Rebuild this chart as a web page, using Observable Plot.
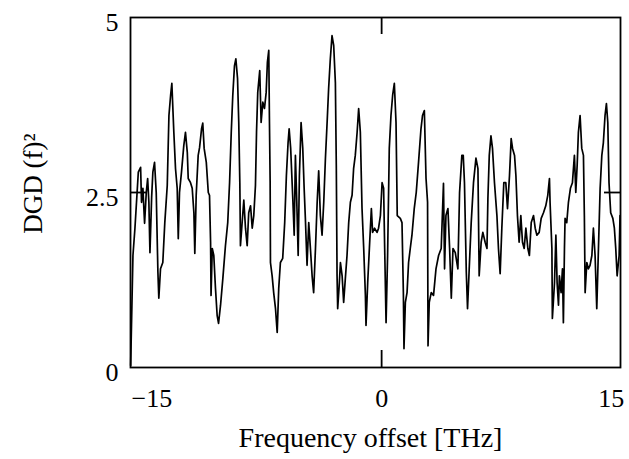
<!DOCTYPE html>
<html><head><meta charset="utf-8">
<script src="https://cdn.jsdelivr.net/npm/d3@7"></script>
<script src="https://cdn.jsdelivr.net/npm/@observablehq/plot@0.6"></script>
<style>body{margin:0;background:#fff}</style>
</head><body><div id="chart"></div>
<script>
const freq = [-16.39,-16.24,-16.11,-15.89,-15.74,-15.68,-15.59,-15.48,-15.37,-15.28,-15.20,-15.13,-15.02,-14.94,-14.83,-14.72,-14.61,-14.55,-14.44,-14.29,-14.16,-14.00,-13.89,-13.78,-13.70,-13.57,-13.46,-13.35,-13.28,-13.20,-13.07,-12.92,-12.81,-12.69,-12.63,-12.48,-12.37,-12.26,-12.20,-12.11,-11.98,-11.89,-11.76,-11.68,-11.59,-11.45,-11.32,-11.24,-11.17,-11.14,-11.06,-10.96,-10.85,-10.74,-10.65,-10.52,-10.37,-10.20,-10.05,-9.93,-9.82,-9.72,-9.61,-9.52,-9.41,-9.33,-9.26,-9.22,-9.11,-9.00,-8.89,-8.78,-8.68,-8.56,-8.45,-8.35,-8.24,-8.17,-8.09,-7.96,-7.87,-7.76,-7.65,-7.54,-7.46,-7.37,-7.33,-7.28,-7.26,-7.15,-7.05,-6.93,-6.82,-6.72,-6.61,-6.46,-6.33,-6.22,-6.11,-6.04,-5.94,-5.81,-5.71,-5.63,-5.54,-5.45,-5.37,-5.26,-5.15,-5.06,-4.98,-4.87,-4.76,-4.65,-4.54,-4.44,-4.32,-4.21,-4.11,-4.00,-3.89,-3.78,-3.67,-3.56,-3.46,-3.35,-3.24,-3.13,-3.02,-2.96,-2.91,-2.87,-2.76,-2.69,-2.58,-2.48,-2.37,-2.26,-2.15,-2.04,-1.93,-1.83,-1.72,-1.60,-1.50,-1.39,-1.28,-1.17,-1.06,-1.02,-0.91,-0.80,-0.67,-0.59,-0.46,-0.30,-0.20,-0.08,0.03,0.13,0.20,0.29,0.39,0.50,0.61,0.72,0.83,0.94,1.02,1.22,1.33,1.42,1.46,1.55,1.66,1.76,1.87,1.98,2.13,2.26,2.41,2.57,2.67,2.79,2.90,3.00,3.03,3.11,3.24,3.39,3.55,3.72,3.89,4.04,4.11,4.20,4.33,4.44,4.55,4.66,4.81,4.98,5.09,5.24,5.33,5.41,5.53,5.61,5.72,5.85,6.00,6.16,6.29,6.37,6.50,6.61,6.76,6.88,6.94,7.03,7.14,7.24,7.37,7.53,7.63,7.74,7.85,7.98,8.11,8.22,8.35,8.46,8.55,8.68,8.77,8.87,8.98,9.09,9.20,9.31,9.42,9.55,9.65,9.77,9.92,10.03,10.14,10.29,10.42,10.57,10.72,10.85,10.96,11.00,11.12,11.15,11.29,11.38,11.46,11.55,11.61,11.72,11.81,11.87,11.94,11.98,12.09,12.20,12.33,12.46,12.59,12.68,12.77,12.85,12.96,13.07,13.18,13.24,13.29,13.40,13.50,13.61,13.73,13.83,13.94,14.05,14.16,14.27,14.38,14.48,14.59,14.68,14.77,14.85,14.96,15.10,15.20,15.29,15.38,15.51,15.57];
const dgd = [0.03,1.60,1.99,2.79,2.86,2.36,2.56,2.06,2.50,2.70,2.36,1.64,2.43,2.79,2.93,2.50,1.36,0.99,1.41,1.50,2.07,2.60,3.60,3.89,4.06,3.36,2.84,2.56,1.84,2.50,2.79,3.17,3.36,3.07,2.70,2.64,2.56,2.21,1.63,2.46,3.03,3.14,3.41,3.49,3.13,2.93,2.50,2.46,1.79,1.03,1.70,1.60,1.13,0.74,0.63,0.89,1.27,1.74,2.07,2.64,3.36,3.89,4.31,4.41,4.13,3.50,2.64,1.74,2.07,2.39,1.99,1.74,2.21,2.31,1.99,2.17,2.60,3.36,3.93,4.24,3.50,3.79,3.70,3.93,4.36,4.53,3.60,2.64,1.50,1.31,1.07,0.84,0.50,1.13,1.50,1.56,2.07,2.74,3.21,3.41,3.13,2.46,1.89,3.03,2.36,1.60,2.74,3.50,3.13,2.56,2.13,1.46,2.07,1.70,1.31,1.07,1.70,2.36,2.81,2.17,1.89,2.36,2.99,3.50,3.99,4.41,4.74,4.60,4.07,2.89,1.31,0.84,1.21,1.50,1.31,0.93,1.27,1.60,2.07,2.36,2.46,2.84,3.03,3.36,3.70,3.36,2.27,1.70,1.03,0.60,1.21,1.70,2.27,1.93,1.99,1.93,1.99,2.17,2.64,2.56,1.70,0.64,1.60,3.13,3.60,3.89,4.06,3.50,2.17,2.13,2.07,1.07,0.27,0.93,1.07,1.50,1.70,1.89,2.27,2.50,2.93,3.41,3.60,3.67,2.70,2.36,0.31,0.93,1.07,1.03,1.41,1.60,1.70,2.63,1.41,2.17,2.27,1.70,0.99,1.70,1.64,1.41,2.50,3.03,3.03,2.64,1.36,0.84,1.41,2.07,2.64,2.99,2.84,1.31,1.79,1.93,1.79,1.70,2.41,3.03,3.31,3.13,2.64,2.17,1.70,1.34,1.99,2.64,2.64,2.27,2.74,3.27,3.13,3.03,2.74,2.17,1.79,2.17,1.79,1.70,1.99,1.70,1.60,2.07,2.17,1.99,1.89,1.93,2.13,2.21,2.31,2.46,2.70,2.36,1.70,0.70,1.21,1.89,1.21,0.89,1.31,1.07,1.41,0.64,1.70,2.13,2.07,2.36,2.56,2.64,3.03,2.50,2.89,3.36,3.60,3.13,3.03,2.17,1.07,1.50,1.41,1.46,1.60,1.99,1.60,0.84,1.70,2.56,3.03,3.21,3.60,3.77,3.50,2.64,2.21,2.13,1.99,1.70,1.31,1.60,2.17];
const xTicks = [-15, 0, 15];
const yTicks = [0, 2.5, 5];
const xMidTick = [0];
const yMidTick = [2.5];
const xLabel = "Frequency offset [THz]";
const yLabel = "DGD (f)²";

const data = freq.map((f, i) => ({f, d: dgd[i]}));
const fmt = d => d < 0 ? "\u2212" + Math.abs(d) : String(d);

const chart = Plot.plot({
  width: 629, height: 459,
  marginLeft: 130, marginRight: 9, marginTop: 17, marginBottom: 92,
  style: {fontFamily: "'Liberation Serif', serif", fontSize: "26px", background: "white", color: "black", overflow: "visible"},
  x: {domain: [-16.4, 15.6]},
  y: {domain: [0, 5]},
  marks: [
    Plot.line(data, {x: "f", y: "d", stroke: "black", strokeWidth: 1.7}),
    Plot.frame({stroke: "black", strokeWidth: 1.8}),
    Plot.tickX(xMidTick, {x: d => d, insetTop: 333, stroke: "black", strokeWidth: 1.8}),
    Plot.tickX(xMidTick, {x: d => d, insetBottom: 333, stroke: "black", strokeWidth: 1.8}),
    Plot.tickY(yMidTick, {y: d => d, insetRight: 474, stroke: "black", strokeWidth: 1.8}),
    Plot.tickY(yMidTick, {y: d => d, insetLeft: 474, stroke: "black", strokeWidth: 1.8}),
    Plot.axisX({ticks: xTicks, tickSize: 0, tickPadding: 21, tickFormat: fmt, label: null, fontSize: 26}),
    Plot.axisY({ticks: yTicks, tickSize: 0, tickPadding: 12, dy: 5, tickFormat: fmt, label: null, fontSize: 26}),
    Plot.text([xLabel], {text: d => d, frameAnchor: "bottom", dy: 71, dx: -5, textAnchor: "middle", lineAnchor: "middle", fontSize: 28}),
    Plot.text([yLabel], {text: d => d, frameAnchor: "left", dx: -97, dy: -9, rotate: -90, textAnchor: "middle", lineAnchor: "middle", fontSize: 27})
  ]
});
document.getElementById("chart").appendChild(chart);
</script>
</body></html>
